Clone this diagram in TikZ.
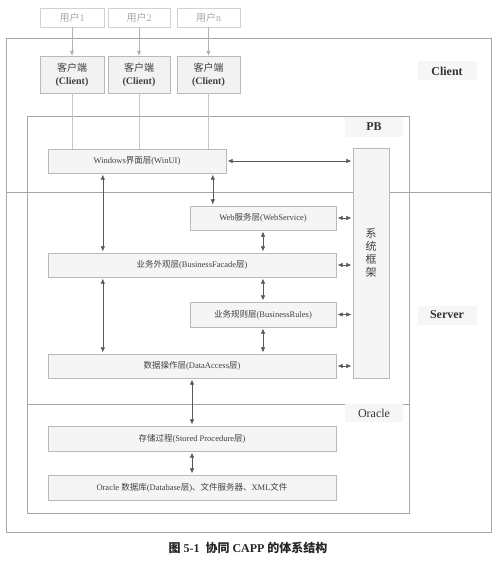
\documentclass[tikz,border=0pt]{standalone}
\usepackage{fontspec}
\setmainfont{Liberation Serif}
\newfontfamily\cjk{Noto Sans CJK SC}
\usetikzlibrary{arrows.meta}
\newcommand\zh[1]{{\cjk\mdseries #1}}

\begin{document}
\begin{tikzpicture}[x=1pt,y=-1pt,>={Latex[length=5pt,width=4.5pt]},
  userbox/.style={draw=gray!35,minimum height=19pt,inner sep=0pt,text=gray!70,font=\fontsize{10}{12}\selectfont},
  clientbox/.style={draw=gray!55,fill=gray!10,minimum height=37pt,inner sep=0pt,align=center,
    text=black!75,font=\fontsize{10}{13}\selectfont\bfseries},
  layerbox/.style={draw=gray!55,fill=gray!8,minimum height=24pt,inner sep=0pt,
    text=black!75,font=\fontsize{8.5}{10}\selectfont},
  tagbox/.style={fill=gray!7,inner sep=0pt,minimum height=19pt,minimum width=59pt,
    text=black!80,font=\fontsize{12}{14}\selectfont},
  dar/.style={<->,draw=black!65,line width=0.5pt,shorten <=1.5pt,shorten >=1.5pt},
  sar/.style={->,draw=gray!60,line width=0.5pt},
  feed/.style={draw=gray!45,thin}]
  \useasboundingbox (0,0) rectangle (496,561);

  % frames
  \draw[gray!70,line width=0.7pt] (6,38) rectangle (491,532);
  \draw[gray!70,line width=0.7pt] (27,116) rectangle (409,513);
  \draw[gray!70,line width=0.7pt] (6,192) -- (491,192);
  \draw[gray!70,line width=0.7pt] (27,404) -- (409,404);

  % users and clients
  \node[userbox,minimum width=64pt] (u1) at (72,17.5) {\zh{用户}1};
  \node[userbox,minimum width=62pt] (u2) at (139,17.5) {\zh{用户}2};
  \node[userbox,minimum width=63pt] (un) at (208.5,17.5) {\zh{用户}n};
  \node[clientbox,minimum width=64pt] (c1) at (72,74.5) {\zh{客户端}\\(Client)};
  \node[clientbox,minimum width=62pt] (c2) at (139,74.5) {\zh{客户端}\\(Client)};
  \node[clientbox,minimum width=63pt] (cn) at (208.5,74.5) {\zh{客户端}\\(Client)};

  % layers
  \node[layerbox,minimum width=178pt] (winui) at (137,161) {Windows\zh{界面层}(WinUI)};
  \node[layerbox,minimum width=146pt] (web) at (263,218) {Web\zh{服务层}(WebService)};
  \node[layerbox,minimum width=288pt] (facade) at (192,265) {\zh{业务外观层}(BusinessFacade\zh{层})};
  \node[layerbox,minimum width=146pt,minimum height=25pt] (rules) at (263,314.5) {\zh{业务规则层}(BusinessRules)};
  \node[layerbox,minimum width=288pt] (data) at (192,366) {\zh{数据操作层}(DataAccess\zh{层})};
  \node[layerbox,minimum width=288pt,minimum height=25pt] (stored) at (192,438.5) {\zh{存储过程}(Stored Procedure\zh{层})};
  \node[layerbox,minimum width=288pt,minimum height=25pt] (db) at (192,487.5) {Oracle \zh{数据库}(Database\zh{层})\zh{、文件服务器、}XML\zh{文件}};
  \node[layerbox,minimum width=36pt,minimum height=230pt,align=center,
    font=\fontsize{11}{13}\selectfont] (frame) at (371,263) {\zh{系}\\\zh{统}\\\zh{框}\\\zh{架}\\[8pt]};

  % tags
  \node[tagbox,font=\fontsize{12}{14}\selectfont\bfseries] (tclient) at (447,71) {Client};
  \node[tagbox,minimum width=58pt,minimum height=20pt,font=\fontsize{12}{14}\selectfont\bfseries] (tpb) at (374,127) {PB};
  \node[tagbox,font=\fontsize{12}{14}\selectfont\bfseries] (tserver) at (447,315) {Server};
  \node[tagbox,minimum width=58pt,minimum height=18pt] (toracle) at (374,413) {Oracle};

  % connectors
  \foreach \u/\c in {u1/c1,u2/c2,un/cn} {
    \draw[sar] (\u.south) -- (\c.north);
    \draw[feed] (\c.south) -- (\c.south |- winui.north);
  }
  \foreach \n in {winui,web,facade,rules,data}
    \draw[dar] (\n.east) -- (\n.east -| frame.west);
  \draw[dar] ([xshift=23pt]web.north west |- winui.south) -- ([xshift=23pt]web.north west);
  \draw[dar] ([xshift=55pt]winui.south west) -- ([xshift=55pt]facade.north west);
  \draw[dar] (web.south) -- (web.south |- facade.north);
  \draw[dar] (rules.north |- facade.south) -- (rules.north);
  \draw[dar] (rules.south) -- (rules.south |- data.north);
  \draw[dar] ([xshift=55pt]facade.south west) -- ([xshift=55pt]data.north west);
  \draw[dar] (data.south) -- (stored.north);
  \draw[dar] (stored.south) -- (db.north);

  % caption
  \node[font=\fontsize{12}{14}\selectfont\bfseries,text=black!85] (caption) at (248,548)
    {{\cjk\bfseries 图} 5-1\ \ {\cjk\bfseries 协同} CAPP {\cjk\bfseries 的体系结构}};
\end{tikzpicture}
\end{document}
